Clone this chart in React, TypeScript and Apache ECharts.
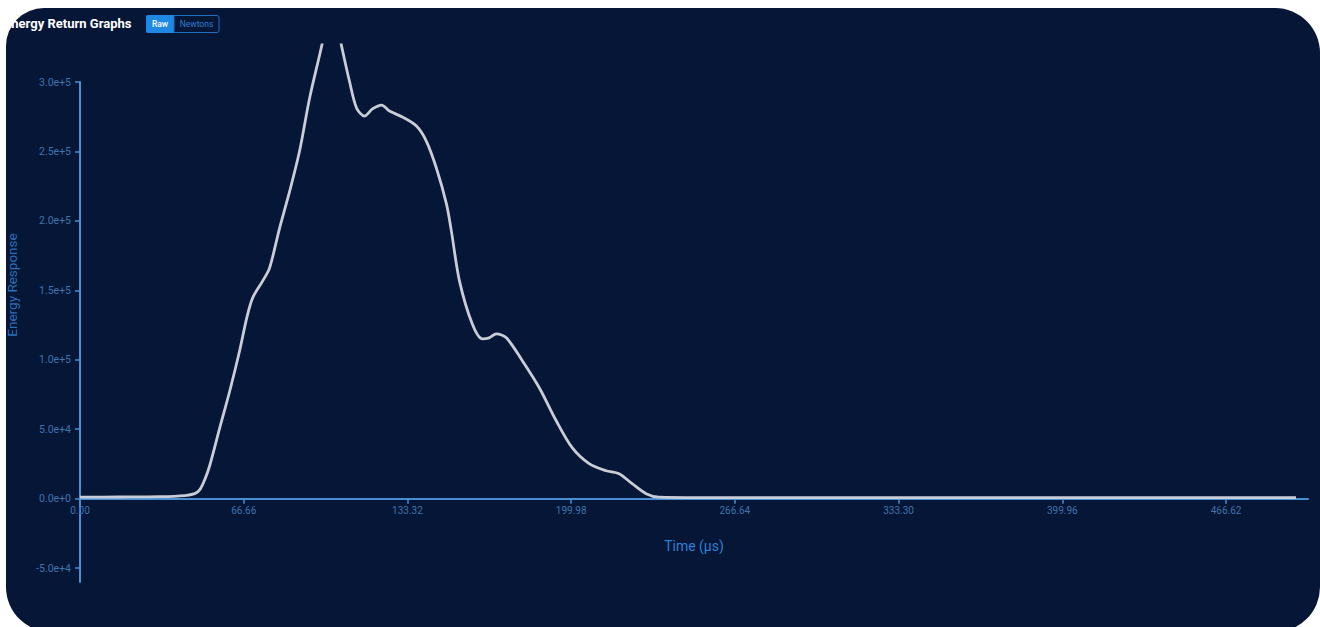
import React, { useEffect, useRef } from "react";
import * as echarts from "echarts";

const timeUs = [
  0, 16.3, 32.5, 42.7, 46.7, 48.8, 50.8, 52.8, 56.9, 61.0, 65.0, 67.9, 70.3, 74.4, 77.2,
  81.3, 85.4, 89.4, 93.5, 98.4, 102.4, 106.5, 109.7, 112.6, 115.8, 119.1, 122.8, 126.0,
  131.3, 137.0, 141.0, 145.1, 149.2, 151.2, 154.5, 159.7, 163.8, 166.6, 169.5, 173.6,
  180.1, 187.0, 193.9, 200.4, 207.3, 214.2, 219.5, 224.8, 230.5, 235.7, 252.0, 300.0,
  400.0, 495.1,
];
const energy = [
  1100, 1200, 1400, 2200, 3600, 6500, 13700, 23700, 51000, 77700, 106500, 130200, 144600,
  156800, 166200, 195000, 221600, 250300, 288500, 325900, 360000, 325900, 300700, 281300,
  275500, 280600, 283400, 279100, 274800, 268300, 257500, 238100, 212200, 192800, 156800,
  125900, 115100, 115800, 118700, 115800, 99300, 79900, 56100, 36700, 25200, 20100, 18000,
  10800, 3600, 1100, 800, 800, 800, 800,
];
const xTicks = [0, 66.66, 133.32, 199.98, 266.64, 333.3, 399.96, 466.62];
const yTicks = [-50000, 0, 50000, 100000, 150000, 200000, 250000, 300000];

const X_MIN = 0;
const X_MAX = 500;
const Y_MIN = -60000;
const Y_MAX = 300000;

const AXIS = "#4a8fd4";
const LABEL = "#3f74ad";
const FONT = "Roboto, sans-serif";

// layout (pixels)
const GRID_LEFT = 80;
const GRID_RIGHT = 12;
const AXIS_TOP = 82;
const AXIS_BOTTOM = 582;
const PLOT_TOP = 45;

export default function App() {
  const ref = useRef<HTMLDivElement>(null);
  useEffect(() => {
    document.body.style.margin = "0";
    if (!ref.current) return;
    const chart = echarts.init(ref.current, undefined, { renderer: "svg" });
    const H = 627;
    const pxPerUnit = (AXIS_BOTTOM - AXIS_TOP) / (Y_MAX - Y_MIN);
    const zeroPx = AXIS_BOTTOM - (0 - Y_MIN) * pxPerUnit;
    const plotMax = (zeroPx - PLOT_TOP) / pxPerUnit;
    const data = timeUs.map((t, i) => [t, energy[i]]);
    chart.setOption({
      animation: false,
      backgroundColor: "transparent",
      textStyle: { fontFamily: FONT },
      grid: [
        { left: GRID_LEFT, right: GRID_RIGHT, top: PLOT_TOP, bottom: H - zeroPx, outerBoundsMode: "none" },
        { left: GRID_LEFT, right: GRID_RIGHT, top: AXIS_TOP, bottom: H - AXIS_BOTTOM, outerBoundsMode: "none" },
      ],
      xAxis: [
        {
          gridIndex: 0,
          type: "value",
          min: X_MIN,
          max: X_MAX,
          name: "Time (µs)",
          nameLocation: "middle",
          nameGap: 40,
          nameTextStyle: { color: "#2c80d6", fontSize: 14, fontFamily: FONT },
          axisLine: { show: true, onZero: false, lineStyle: { color: AXIS, width: 2 } },
          axisTick: { show: true, length: 5, customValues: xTicks, lineStyle: { color: AXIS, width: 1.5 } },
          axisLabel: {
            customValues: xTicks,
            color: LABEL,
            fontSize: 10,
            margin: 7,
            fontFamily: FONT,
            formatter: (v: number) => v.toFixed(2),
          },
          splitLine: { show: false },
        },
        { gridIndex: 1, type: "value", min: X_MIN, max: X_MAX, show: false },
      ],
      yAxis: [
        { gridIndex: 0, type: "value", min: 0, max: plotMax, show: false },
        {
          gridIndex: 1,
          type: "value",
          min: Y_MIN,
          max: Y_MAX,
          axisLine: { show: true, onZero: false, lineStyle: { color: AXIS, width: 2 } },
          axisTick: { show: true, length: 5, customValues: yTicks, lineStyle: { color: AXIS, width: 1.5 } },
          axisLabel: {
            customValues: yTicks,
            color: LABEL,
            fontSize: 10.5,
            margin: 9,
            fontFamily: FONT,
            formatter: (v: number) => v.toExponential(1),
          },
          splitLine: { show: false },
        },
      ],
      series: [
        {
          type: "line",
          xAxisIndex: 0,
          yAxisIndex: 0,
          data,
          smooth: 0.3,
          showSymbol: false,
          clip: true,
          lineStyle: { color: "#c8cdd7", width: 2.8 },
          z: 3,
        },
      ],
      graphic: [
        {
          type: "text",
          x: 4,
          y: 23,
          style: {
            text: "Energy Return Graphs",
            fill: "#ffffff",
            font: `bold 13px ${FONT}`,
            textVerticalAlign: "middle",
          },
        },
        {
          type: "rect",
          shape: { x: 146, y: 15, width: 28, height: 18, r: [2, 0, 0, 2] },
          style: { fill: "#1e88e5" },
        },
        {
          type: "text",
          x: 160,
          y: 24,
          style: { text: "Raw", fill: "#ffffff", font: `500 8.5px ${FONT}`, textAlign: "center", textVerticalAlign: "middle" },
        },
        {
          type: "rect",
          shape: { x: 174, y: 15.5, width: 45, height: 17, r: [0, 2, 2, 0] },
          style: { fill: "none", stroke: "#1e6fc0", lineWidth: 1 },
        },
        {
          type: "text",
          x: 196.5,
          y: 24,
          style: { text: "Newtons", fill: "#2f7fd0", font: `8.5px ${FONT}`, textAlign: "center", textVerticalAlign: "middle" },
        },
        {
          type: "text",
          x: 12,
          y: 285,
          rotation: Math.PI / 2,
          style: {
            text: "Energy Response",
            fill: "#2c6fb8",
            font: `13.5px ${FONT}`,
            textAlign: "center",
            textVerticalAlign: "middle",
          },
        },
      ],
    });
    return () => chart.dispose();
  }, []);

  return (
    <div style={{ position: "relative", width: 1320, height: 627, background: "#ffffff", overflow: "hidden" }}>
      <div
        style={{
          position: "absolute",
          left: 6,
          top: 8,
          width: 1314,
          height: 624,
          background: "#061636",
          borderRadius: "38px 45px 45px 45px",
        }}
      />
      <div ref={ref} style={{ position: "absolute", left: 0, top: 0, width: 1320, height: 627 }} />
    </div>
  );
}
